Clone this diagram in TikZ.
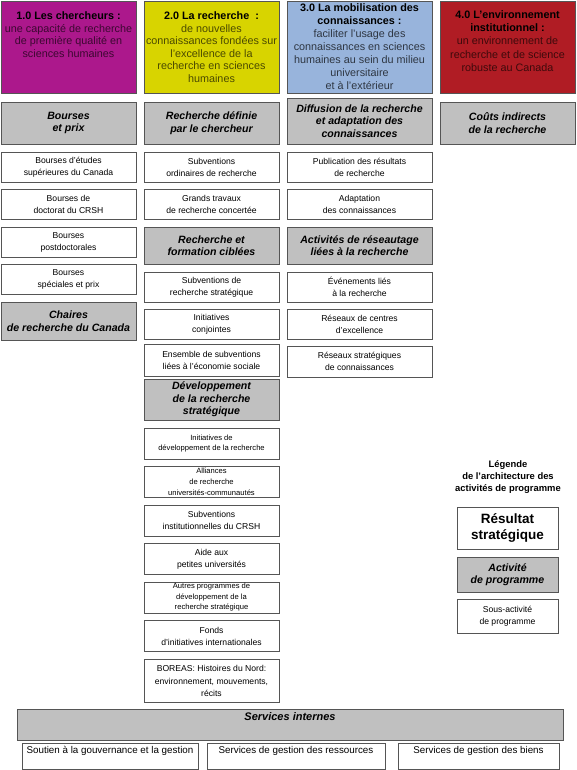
\documentclass[tikz,border=0pt]{standalone}
\usepackage{fontspec}
\setmainfont{Liberation Sans}
\usetikzlibrary{positioning}

\definecolor{bord}{RGB}{85,85,85}
\definecolor{gris}{RGB}{192,192,192}
\definecolor{couleurA}{RGB}{172,24,140}
\definecolor{couleurB}{RGB}{216,212,0}
\definecolor{couleurC}{RGB}{152,180,220}
\definecolor{couleurD}{RGB}{176,28,36}

\begin{document}
\begin{tikzpicture}[x=1pt, y=-1pt, line join=miter]
	
	% Styles des boîtes de l'architecture des activités de programme
	\tikzset{
		boite/.style={draw=bord, line width=0.9pt, inner sep=1pt, align=center, minimum width=#1},
		boite/.default=135pt,
		entete/.style={boite=#1, minimum height=92pt},
		entete/.default=135pt,
		activite/.style={boite=#1, fill=gris, minimum height=42pt, font=\fontsize{10.6}{12.5}\selectfont\bfseries\itshape},
		activite/.default=135pt,
		sousact/.style={boite=#1, fill=white, minimum height=30pt, font=\fontsize{8.6}{12}\selectfont},
		sousact/.default=135pt,
		petit/.style={font=\fontsize{7.6}{10.6}\selectfont},
		textentete/.style={inner sep=0pt, align=center, font=\fontsize{10.8}{13}\selectfont},
		textbas/.style={inner sep=0pt, font=\fontsize{9.8}{11}\selectfont}
	}
	
	\useasboundingbox (0,0) rectangle (576,770);
	
	% ----------------------------------------------------
	% RÉSULTATS STRATÉGIQUES (en-têtes colorés)
	% ----------------------------------------------------
	\node[entete, fill=couleurA] (h1) at (68.5,47) {};
	\node[entete, fill=couleurB] (h2) at (211.5,47) {};
	\node[entete=145pt, fill=couleurC] (h3) at (359.5,47) {};
	\node[entete, fill=couleurD] (h4) at (507.5,47) {};
	
	\node[textentete, text=couleurA!35!black, below=11pt of h1.north, font=\fontsize{10.8}{12.5}\selectfont] (h1t)
		{\textcolor{black}{\bfseries 1.0 Les chercheurs :}\\une capacité de recherche\\de première qualité en\\sciences humaines};
	\node[textentete, text=couleurB!35!black, below=11pt of h2.north, font=\fontsize{10.8}{12.5}\selectfont] (h2t)
		{\textcolor{black}{\bfseries 2.0 La recherche\ \ :}\\de nouvelles\\connaissances fondées sur\\l’excellence de la\\recherche en sciences\\humaines};
	\node[textentete, text=couleurC!30!black, below=3pt of h3.north] (h3t)
		{\textcolor{black}{\bfseries 3.0 La mobilisation des}\\\textcolor{black}{\bfseries connaissances :}\\faciliter l’usage des\\connaissances en sciences\\humaines au sein du milieu\\universitaire\\et à l’extérieur};
	\node[textentete, text=couleurD!35!black, below=9.5pt of h4.north, font=\fontsize{10.8}{13.4}\selectfont] (h4t)
		{\textcolor{black}{\bfseries 4.0 L’environnement}\\\textcolor{black}{\bfseries institutionnel :}\\un environnement de\\recherche et de science\\robuste au Canada};
	
	% ----------------------------------------------------
	% COLONNE 1 : Les chercheurs
	% ----------------------------------------------------
	\node[activite] (a11) at (68.5,123) {Bourses\\et prix};
	\node[sousact] (s11) at (68.5,167) {Bourses d’études\\supérieures du Canada};
	\node[sousact] (s12) at (68.5,204) {Bourses de\\doctorat du CRSH};
	\node[sousact] (s13) at (68.5,242) {Bourses\\postdoctorales};
	\node[sousact] (s14) at (68.5,279) {Bourses\\spéciales et prix};
	\node[activite, minimum height=38pt] (a12) at (68.5,321) {Chaires\\de recherche du Canada};
	
	% ----------------------------------------------------
	% COLONNE 2 : La recherche
	% ----------------------------------------------------
	\node[activite] (a21) at (211.5,123) {Recherche définie\\par le chercheur};
	\node[sousact] (s21) at (211.5,167) {Subventions\\ordinaires de recherche};
	\node[sousact] (s22) at (211.5,204) {Grands travaux\\de recherche concertée};
	\node[activite, minimum height=37pt] (a22) at (211.5,245.5) {Recherche et\\formation ciblées};
	\node[sousact] (s23) at (211.5,287) {Subventions de\\recherche stratégique};
	\node[sousact] (s24) at (211.5,324) {Initiatives\\conjointes};
	\node[sousact, minimum height=32pt] (s25) at (211.5,360) {Ensemble de subventions\\liées à l’économie sociale};
	\node[activite, minimum height=41pt] (a23) at (211.5,399.5) {Développement\\de la recherche\\stratégique};
	\node[sousact, minimum height=31pt, petit] (s26) at (211.5,443.5) {Initiatives de\\développement de la recherche};
	\node[sousact, minimum height=31pt, petit, font=\fontsize{7.6}{10.8}\selectfont] (s27) at (211.5,482) {Alliances\\de recherche\\universités-communautés};
	\node[sousact, minimum height=31pt] (s28) at (211.5,520.5) {Subventions\\institutionnelles du CRSH};
	\node[sousact, minimum height=31pt] (s29) at (211.5,559) {Aide aux\\petites universités};
	\node[sousact, minimum height=31pt, petit, font=\fontsize{7.6}{10.5}\selectfont] (s2a) at (211.5,597.5) {Autres programmes de\\développement de la\\recherche stratégique};
	\node[sousact, minimum height=31pt] (s2b) at (211.5,636) {Fonds\\d’initiatives internationales};
	\node[sousact, minimum height=43pt] (s2c) at (211.5,680.5) {};
	\node[inner sep=0pt, align=center, font=\fontsize{8.6}{12.5}\selectfont, below=7pt of s2c.north] (s2ct)
		{BOREAS: Histoires du Nord:\\environnement, mouvements,\\récits};
	
	% ----------------------------------------------------
	% COLONNE 3 : La mobilisation des connaissances
	% ----------------------------------------------------
	\node[activite=145pt, minimum height=46pt] (a31) at (359.5,121) {Diffusion de la recherche\\et adaptation des\\connaissances};
	\node[sousact=145pt] (s31) at (359.5,167) {Publication des résultats\\de recherche};
	\node[sousact=145pt] (s32) at (359.5,204) {Adaptation\\des connaissances};
	\node[activite=145pt, minimum height=37pt] (a32) at (359.5,245.5) {Activités de réseautage\\liées à la recherche};
	\node[sousact=145pt] (s33) at (359.5,287) {Événements liés\\à la recherche};
	\node[sousact=145pt] (s34) at (359.5,324) {Réseaux de centres\\d’excellence};
	\node[sousact=145pt, minimum height=31pt] (s35) at (359.5,361.5) {Réseaux stratégiques\\de connaissances};
	
	% ----------------------------------------------------
	% COLONNE 4 : L'environnement institutionnel
	% ----------------------------------------------------
	\node[activite] (a41) at (507.5,123) {Coûts indirects\\de la recherche};
	
	% ----------------------------------------------------
	% LÉGENDE
	% ----------------------------------------------------
	\node[align=center, inner sep=0pt, font=\fontsize{9.4}{12}\selectfont\bfseries] (leg) at (508,477)
		{Légende\\de l’architecture des\\activités de programme};
	\node[boite=101pt, fill=white, minimum height=42pt, font=\fontsize{13.5}{16}\selectfont\bfseries] (l1) at (507.5,528) {Résultat\\stratégique};
	\node[activite=101pt, minimum height=35pt] (l2) at (507.5,574.5) {Activité\\de programme};
	\node[sousact=101pt, minimum height=34pt] (l3) at (507.5,616) {Sous-activité\\de programme};
	
	% ----------------------------------------------------
	% SERVICES INTERNES
	% ----------------------------------------------------
	\node[boite=546pt, fill=gris, minimum height=31pt] (si) at (290,724.5) {};
	\node[inner sep=0pt, font=\fontsize{11}{12}\selectfont\bfseries\itshape, below=3.5pt of si.north] (sit) {Services internes};
	
	\node[boite=176pt, minimum height=26pt] (b1) at (110,756) {};
	\node[boite=178pt, minimum height=26pt] (b2) at (296,756) {};
	\node[boite=161pt, minimum height=26pt] (b3) at (478.5,756) {};
	\node[textbas, below=4pt of b1.north] (b1t) {Soutien à la gouvernance et la gestion};
	\node[textbas, below=4pt of b2.north] (b2t) {Services de gestion des ressources};
	\node[textbas, below=4pt of b3.north] (b3t) {Services de gestion des biens};
	
\end{tikzpicture}
\end{document}
